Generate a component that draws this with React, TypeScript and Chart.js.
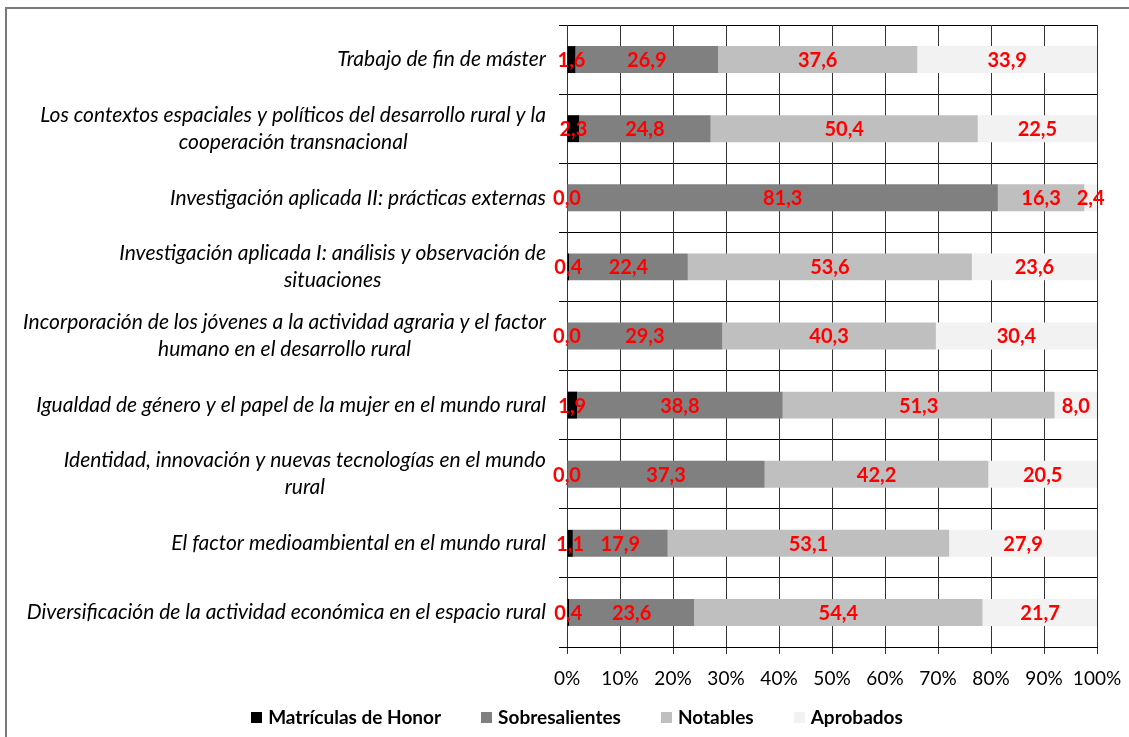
import React, { useEffect, useRef } from "react";
import { Chart, registerables } from "chart.js";

Chart.register(...registerables);

const categories: string[][] = [
  ["Trabajo de fin de máster"],
  ["Los contextos espaciales y políticos del desarrollo rural y la", "cooperación transnacional"],
  ["Investigación aplicada II: prácticas externas"],
  ["Investigación aplicada I: análisis y observación de", "situaciones"],
  ["Incorporación de los jóvenes a la actividad agraria y el factor", "humano en el desarrollo rural"],
  ["Igualdad de género y el papel de la mujer en el mundo rural"],
  ["Identidad, innovación y nuevas tecnologías en el mundo", "rural"],
  ["El factor medioambiental en el mundo rural"],
  ["Diversificación de la actividad económica en el espacio rural"],
];

const seriesNames = ["Matrículas de Honor", "Sobresalientes", "Notables", "Aprobados"];
const seriesColors = ["#000000", "#808080", "#bfbfbf", "#f2f2f2"];

const matriculas = [1.6, 2.3, 0.0, 0.4, 0.0, 1.9, 0.0, 1.1, 0.4];
const sobresalientes = [26.9, 24.8, 81.3, 22.4, 29.3, 38.8, 37.3, 17.9, 23.6];
const notables = [37.6, 50.4, 16.3, 53.6, 40.3, 51.3, 42.2, 53.1, 54.4];
const aprobados = [33.9, 22.5, 2.4, 23.6, 30.4, 8.0, 20.5, 27.9, 21.7];

const xTickStep = 10;
const xMin = 0;
const xMax = 100;

const FONT = "Lato, 'Open Sans', sans-serif";

const framePlugin = {
  id: "frame",
  beforeDraw(chart: any) {
    const ctx = chart.ctx;
    ctx.save();
    ctx.fillStyle = "#ffffff";
    ctx.fillRect(0, 0, chart.width, chart.height);
    ctx.strokeStyle = "#7a7a7a";
    ctx.lineWidth = 2;
    ctx.strokeRect(6, 8, chart.width + 20, chart.height + 20);
    ctx.restore();
  },
};

const vGridPlugin = {
  id: "vGrid",
  beforeDatasetsDraw(chart: any) {
    const ctx = chart.ctx;
    const xs = chart.scales.x;
    const area = chart.chartArea;
    ctx.save();
    ctx.strokeStyle = "#333333";
    ctx.lineWidth = 1;
    xs.ticks.forEach((t: any) => {
      const px = Math.round(xs.getPixelForValue(t.value)) + 0.5;
      ctx.beginPath();
      ctx.moveTo(px, area.top);
      ctx.lineTo(px, area.bottom);
      ctx.stroke();
    });
    ctx.restore();
  },
};

const yLabelPlugin = {
  id: "yLabels",
  afterDraw(chart: any) {
    const ctx = chart.ctx;
    const yScale = chart.scales.y;
    ctx.save();
    ctx.font = `italic 21px ${FONT}`;
    ctx.fillStyle = "#000000";
    ctx.textBaseline = "middle";
    ctx.textAlign = "center";
    const right = chart.chartArea.left - 21;
    categories.forEach((lines, i) => {
      const cy = yScale.getPixelForValue(i);
      const w = Math.max(...lines.map((l) => ctx.measureText(l).width));
      const cx = right - w / 2;
      lines.forEach((l, j) => {
        ctx.fillText(l, cx, cy + (j - (lines.length - 1) / 2) * 27);
      });
    });
    ctx.restore();
  },
};

const valueLabelPlugin = {
  id: "valueLabels",
  afterDatasetsDraw(chart: any) {
    const ctx = chart.ctx;
    ctx.save();
    ctx.font = `bold 20px ${FONT}`;
    ctx.fillStyle = "#ff0000";
    ctx.textAlign = "center";
    ctx.textBaseline = "middle";
    chart.data.datasets.forEach((ds: any, di: number) => {
      const meta = chart.getDatasetMeta(di);
      meta.data.forEach((el: any, i: number) => {
        const v = ds.data[i] as number;
        const p = el.getProps(["x", "y", "base"], true);
        ctx.fillText(v.toFixed(1).replace(".", ","), (p.x + p.base) / 2, p.y + 1);
      });
    });
    ctx.restore();
  },
};

const legendPlugin = {
  id: "customLegend",
  afterDraw(chart: any) {
    const ctx = chart.ctx;
    ctx.save();
    ctx.font = `bold 19px ${FONT}`;
    ctx.textBaseline = "middle";
    ctx.textAlign = "left";
    const box = 11;
    const boxGap = 6;
    const itemGap = 40;
    const centerX = 577;
    const cy = 717;
    const items = chart.data.datasets.map((ds: any) => ({
      text: ds.label as string,
      color: ds.backgroundColor as string,
      w: box + boxGap + ctx.measureText(ds.label).width,
    }));
    const total = items.reduce((s: number, it: any) => s + it.w, 0) + itemGap * (items.length - 1);
    let x = centerX - total / 2;
    items.forEach((it: any) => {
      ctx.fillStyle = it.color;
      ctx.fillRect(Math.round(x), Math.round(cy - box / 2), box, box);
      ctx.fillStyle = "#000000";
      ctx.fillText(it.text, x + box + boxGap, cy + 1);
      x += it.w + itemGap;
    });
    ctx.restore();
  },
};

export default function App() {
  const ref = useRef<HTMLCanvasElement | null>(null);

  useEffect(() => {
    document.body.style.margin = "0";
    const canvas = ref.current;
    if (!canvas) return;
    const seriesData = [matriculas, sobresalientes, notables, aprobados];
    const chart = new Chart(canvas, {
      type: "bar",
      data: {
        labels: categories.map((c) => c.join(" ")),
        datasets: seriesNames.map((name, i) => ({
          label: name,
          data: seriesData[i],
          backgroundColor: seriesColors[i],
          borderWidth: 0,
          barPercentage: 0.39,
          categoryPercentage: 1,
        })),
      },
      options: {
        indexAxis: "y",
        animation: false,
        responsive: false,
        devicePixelRatio: 1,
        layout: { padding: { top: 25, right: 32, left: 0, bottom: 46 } },
        scales: {
          x: {
            stacked: true,
            min: xMin,
            max: xMax,
            ticks: {
              stepSize: xTickStep,
              callback: (v: any) => `${v}%`,
              font: { family: FONT, size: 19 },
              color: "#000000",
              padding: 13,
              maxRotation: 0,
              autoSkip: false,
            },
            grid: {
              color: "#333333",
              lineWidth: 1,
              tickLength: 7,
              drawTicks: true,
              drawOnChartArea: false,
            },
            border: { color: "#000000", width: 1 },
            afterFit(scale: any) {
              scale.height = 44;
              scale.paddingRight = 0;
              scale.paddingLeft = 0;
            },
          },
          y: {
            stacked: true,
            ticks: { display: false },
            grid: {
              offset: true,
              color: "#000000",
              lineWidth: 1,
              tickLength: 8,
              drawTicks: true,
            },
            border: { color: "#000000", width: 1 },
            afterFit(scale: any) {
              scale.width = 567;
            },
          },
        },
        plugins: {
          legend: { display: false },
          tooltip: { enabled: false },
        },
      },
      plugins: [framePlugin, vGridPlugin, yLabelPlugin, valueLabelPlugin, legendPlugin],
    } as any);
    return () => chart.destroy();
  }, []);

  return <canvas ref={ref} width={1129} height={737} style={{ display: "block" }} />;
}
